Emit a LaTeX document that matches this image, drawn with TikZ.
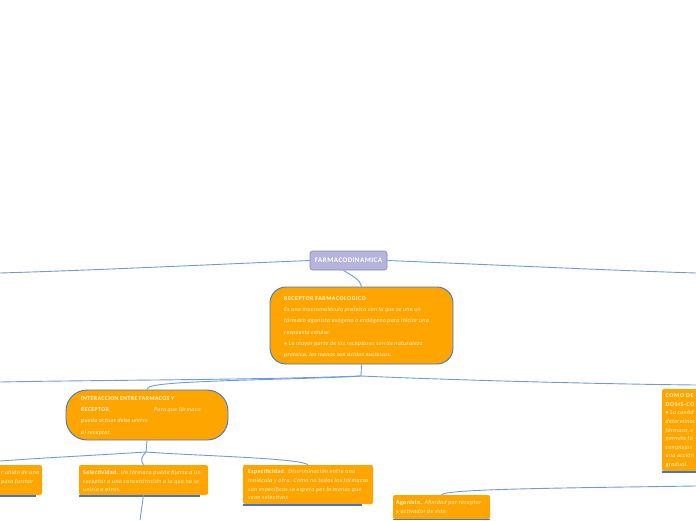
\documentclass[tikz,border=0pt]{standalone}
\usepackage{fontspec}
\setmainfont{Carlito}
\definecolor{orng}{RGB}{255,165,0}
\definecolor{lav}{RGB}{182,180,220}
\definecolor{lavb}{RGB}{135,130,200}
\definecolor{bbord}{RGB}{60,120,210}
\definecolor{conn}{RGB}{110,155,222}
\definecolor{txt}{RGB}{255,246,225}
\begin{document}
\begin{tikzpicture}[x=1pt,y=-1pt,
  conline/.style={draw=conn,line width=0.9pt},
  pill/.style={draw=bbord,line width=0.9pt,fill=orng,inner sep=0pt},
  smallbox/.style={fill=orng,rounded corners=2pt,inner sep=0pt},
  uline/.style={draw=bbord,line width=1.6pt},
  btext/.style={anchor=north west,inner sep=0pt,align=left,text=txt,font=\fontsize{5.9}{11.2}\selectfont\addfontfeature{LetterSpace=5}},
  stext/.style={anchor=north west,inner sep=0pt,align=left,text=txt,font=\fontsize{5.9}{8.7}\selectfont\addfontfeature{LetterSpace=6}}]
\useasboundingbox (0,0) rectangle (696,520);
\clip (0,0) rectangle (696,520);

% root
\node[draw=lavb,fill=lav,rounded corners=2.5pt,line width=0.6pt,minimum width=77pt,minimum height=19pt,inner sep=0pt,text=white,font=\fontsize{7}{7}\selectfont\bfseries\addfontfeature{LetterSpace=6.5}] (fd) at (348.5,260.5) {FARMACODINAMICA};

% receptor box
\node[pill,rounded corners=16pt,minimum width=183pt,minimum height=77pt] (rec) at (361.5,325.5) {};
\node[btext] (rect) at (284,296.5) {\textbf{\addfontfeature{LetterSpace=9.5}RECEPTOR FARMACOLOGICO}\\
\itshape Es una macromolécula proteica con la que se une un\\
\itshape fármaco agonista exógeno o endógeno para iniciar una\\
\itshape respuesta celular.\\
\itshape • La mayor parte de los receptores son de naturaleza\\
\itshape proteica, los menos son ácidos nucleicos.};

% interaccion box
\node[pill,rounded corners=21pt,minimum width=162pt,minimum height=50pt] (int) at (147,415) {};
\node[btext] (intt) at (81,396.5) {\textbf{\addfontfeature{LetterSpace=6}INTERACCION ENTRE FARMACOS Y}\\
\makebox[73pt][l]{\textbf{\addfontfeature{LetterSpace=6}RECEPTOR}}\textit{Para que fármaco}\\
\itshape pueda actuar debe unirse\\
\itshape al receptor.};

% left cut box
\node[smallbox,minimum width=60pt,minimum height=30pt] (lft) at (12,480) {};
\node[stext,anchor=north east] (lftt) at (39.5,470.5) {\itshape r unión de una\\ \itshape para formar};
\draw[uline] (-20,496) -- (36,496);

% selectividad
\node[smallbox,minimum width=129pt,minimum height=30pt] (sel) at (143.5,480) {};
\node[stext] (selt) at (83,470) {\textbf{Selectividad.} \textit{Un fármaco puede fijarse a un}\\
\itshape receptor a una concentración a la que no se\\
\itshape uniría a otros.};
\draw[uline] (79,496) -- (200,496);

% especificidad
\node[smallbox,minimum width=130pt,minimum height=39pt] (esp) at (308,484.5) {};
\node[stext] (espt) at (248,469.5) {\textbf{Especificidad.} \textit{Discriminación entre una}\\
\itshape molécula y otra. Como no todos los fármacos\\
\itshape son específicos se espera por lo menos que\\
\itshape sean selectivos};
\draw[uline] (243,505) -- (362,505);

% agonista
\node[smallbox,minimum width=97pt,minimum height=24pt] (ago) at (441.5,507) {};
\node[stext] (agot) at (396,500.5) {\textbf{Agonista.} \textit{Afinidad por receptor}\\
\itshape y activador de este.};
\draw[uline] (393,519.5) -- (490,519.5);

% como box (cut at right)
\node[smallbox,minimum width=60pt,minimum height=82pt] (como) at (692,430) {};
\node[stext,font=\fontsize{5.9}{8.8}\selectfont\addfontfeature{LetterSpace=12}] (comot) at (665.5,393.5) {\textbf{COMO DE}\\ \textbf{DOSIS-CO}};
\node[stext,font=\fontsize{5.9}{8.6}\selectfont\addfontfeature{LetterSpace=5}] (comot2) at (665.5,410.5) {\itshape • La cantid\\ \itshape determinac\\ \itshape fármaco, e\\ \itshape permite fo\\ \itshape complejos\\ \itshape una acción\\ \itshape gradual.};
\draw[uline] (662,472) -- (700,472);

% coordinates for free ends
\coordinate (L1) at (0,273);
\coordinate (R1) at (696,273);
\coordinate (j1) at (361,376);
\coordinate (L2) at (0,382);
\coordinate (R2) at (696,385);
\coordinate (j2) at (146,452);
\coordinate (L3) at (0,461);
\coordinate (B1) at (140,520);
\coordinate (R3) at (696,486);

% connectors
\draw[conline] (fd.west) .. controls (200,265) and (100,270) .. (L1);
\draw[conline] (fd.east) .. controls (500,265) and (600,270) .. (R1);
\draw[conline] (fd.south) ++(-5,0) .. controls (352,276) and (361,280) .. (rec.north);
\draw[conline] (rec.south) -- (j1);
\draw[conline] (j1) .. controls (250,380) and (100,380) .. (L2);
\draw[conline] (j1) .. controls (450,380) and (600,384) .. (R2);
\draw[conline] (j1) .. controls (300,380) and (150,380) .. (148,388) -- (int.north);
\draw[conline] (int.south) -- (j2);
\draw[conline] (j2) .. controls (100,455) and (40,458) .. (L3);
\draw[conline] (j2) .. controls (142,456) and (140,460) .. (sel.north);
\draw[conline] (j2) .. controls (200,456) and (300,458) .. (esp.north);
\draw[conline] (sel.south) -- (B1);
\draw[conline] (ago.north) .. controls (445,489) and (560,488) .. (R3);
\end{tikzpicture}
\end{document}
